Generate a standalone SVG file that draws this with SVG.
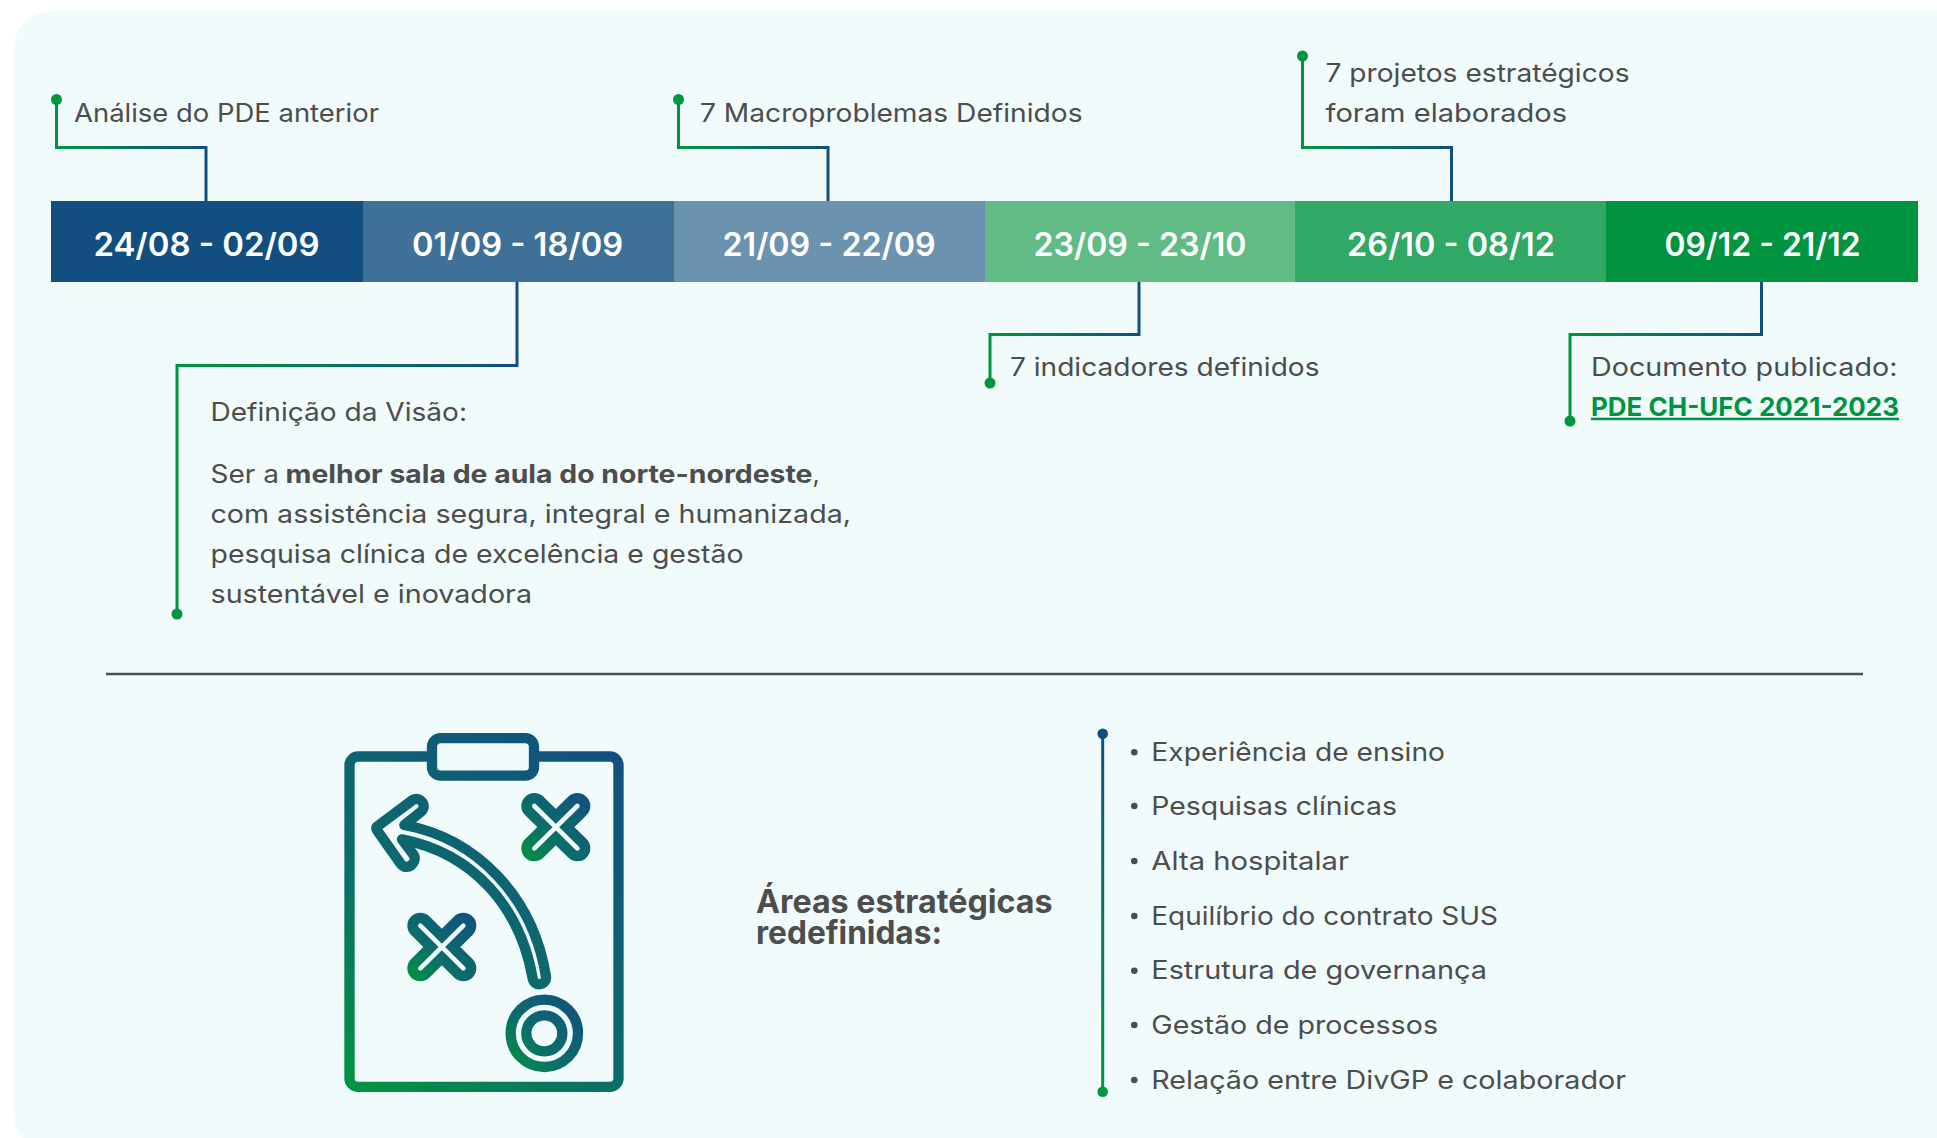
<svg xmlns="http://www.w3.org/2000/svg" width="1937" height="1138" viewBox="0 0 1937 1138">
<style>
text{font-family:"Inter","Noto Sans","Liberation Sans",sans-serif;fill:#4d4d4d;font-size:25.5px}
.d{fill:#fff;font-weight:600;font-size:32px;text-anchor:middle}
.b{font-weight:700}
.c{fill:none;stroke-width:3;stroke-linejoin:miter}
.dot{fill:#00963f}
.ic{fill:none;stroke-width:31;stroke-linejoin:round;stroke-linecap:round}
.bul{fill:#4d4d4d}
</style>
<defs>
<linearGradient id="st"><stop offset="0" stop-color="#00963f"/><stop offset=".42" stop-color="#0c6c6a"/><stop offset="1" stop-color="#124f80"/></linearGradient>
<linearGradient id="gRect" href="#st" gradientUnits="userSpaceOnUse" x1="133" y1="1146" x2="971" y2="124"/>
<linearGradient id="gX1" href="#st" gradientUnits="userSpaceOnUse" x1="663" y1="456" x2="871" y2="248"/>
<linearGradient id="gX2" href="#st" gradientUnits="userSpaceOnUse" x1="321" y1="815" x2="530" y2="607"/>
<linearGradient id="gO" href="#st" gradientUnits="userSpaceOnUse" x1="616" y1="1087" x2="850" y2="853"/>
<linearGradient id="gV" gradientUnits="userSpaceOnUse" x1="0" y1="734" x2="0" y2="1092"><stop offset="0" stop-color="#124f80"/><stop offset="1" stop-color="#00963f"/></linearGradient>
<linearGradient id="gH1" gradientUnits="userSpaceOnUse" x1="56" y1="0" x2="206" y2="0"><stop offset="0" stop-color="#00963f"/><stop offset="1" stop-color="#124f80"/></linearGradient>
<linearGradient id="gH2" gradientUnits="userSpaceOnUse" x1="177" y1="0" x2="517" y2="0"><stop offset="0" stop-color="#00963f"/><stop offset="1" stop-color="#124f80"/></linearGradient>
<linearGradient id="gH3" gradientUnits="userSpaceOnUse" x1="678" y1="0" x2="828" y2="0"><stop offset="0" stop-color="#00963f"/><stop offset="1" stop-color="#124f80"/></linearGradient>
<linearGradient id="gH4" gradientUnits="userSpaceOnUse" x1="989" y1="0" x2="1139" y2="0"><stop offset="0" stop-color="#00963f"/><stop offset="1" stop-color="#124f80"/></linearGradient>
<linearGradient id="gH5" gradientUnits="userSpaceOnUse" x1="1302" y1="0" x2="1452" y2="0"><stop offset="0" stop-color="#00963f"/><stop offset="1" stop-color="#124f80"/></linearGradient>
<linearGradient id="gH6" gradientUnits="userSpaceOnUse" x1="1570" y1="0" x2="1762" y2="0"><stop offset="0" stop-color="#00963f"/><stop offset="1" stop-color="#124f80"/></linearGradient>
</defs>
<rect width="1937" height="1138" fill="#fff"/>
<rect id="panel" x="14" y="11" width="1960" height="1140" rx="36" fill="#f1fbfc"/>

<g id="timeline">
<g id="seg1"><rect x="51" y="201" width="312" height="81" fill="#124f80"/><text class="d" x="206.5" y="256" textLength="226" lengthAdjust="spacingAndGlyphs">24/08 - 02/09</text></g>
<g id="seg2"><rect x="363" y="201" width="311" height="81" fill="#3e7098"/><text class="d" x="517.5" y="256" textLength="211" lengthAdjust="spacingAndGlyphs">01/09 - 18/09</text></g>
<g id="seg3"><rect x="674" y="201" width="311" height="81" fill="#6b93b0"/><text class="d" x="829" y="256" textLength="213" lengthAdjust="spacingAndGlyphs">21/09 - 22/09</text></g>
<g id="seg4"><rect x="985" y="201" width="310" height="81" fill="#60bb85"/><text class="d" x="1140" y="256" textLength="213" lengthAdjust="spacingAndGlyphs">23/09 - 23/10</text></g>
<g id="seg5"><rect x="1295" y="201" width="311" height="81" fill="#30a866"/><text class="d" x="1451" y="256" textLength="208" lengthAdjust="spacingAndGlyphs">26/10 - 08/12</text></g>
<g id="seg6"><rect x="1606" y="201" width="312" height="81" fill="#009440"/><text class="d" x="1762.5" y="256" textLength="196" lengthAdjust="spacingAndGlyphs">09/12 - 21/12</text></g>
</g>

<g id="connectors">
<path class="c" stroke="url(#gH1)" d="M56.5 99V147.5H206V201"/>
<path class="c" stroke="url(#gH2)" d="M517 282V365.5H177V614"/>
<path class="c" stroke="url(#gH3)" d="M678.5 99V147.5H828V201"/>
<path class="c" stroke="url(#gH4)" d="M1139 282V334.5H990V383"/>
<path class="c" stroke="url(#gH5)" d="M1302.5 56V147.5H1451.5V201"/>
<path class="c" stroke="url(#gH6)" d="M1761.5 282V334.5H1570V421"/>
<circle class="dot" cx="56.5" cy="99.5" r="5.5"/>
<circle class="dot" cx="177" cy="614" r="5.5"/>
<circle class="dot" cx="678.5" cy="99.5" r="5.5"/>
<circle class="dot" cx="990" cy="383" r="5.5"/>
<circle class="dot" cx="1302.5" cy="56" r="5.5"/>
<circle class="dot" cx="1570" cy="421" r="5.5"/>
<path d="M1102.7 734V1092" stroke="url(#gV)" stroke-width="3" fill="none"/>
<circle cx="1102.7" cy="733.7" r="5.3" fill="#124f80"/>
<circle cx="1102.7" cy="1091.7" r="5.3" fill="#00963f"/>
</g>

<g id="label-analise"><text x="74" y="121.7" textLength="305" lengthAdjust="spacingAndGlyphs">Análise do PDE anterior</text></g>
<g id="label-macro"><text x="700" y="121.7" textLength="382.5" lengthAdjust="spacingAndGlyphs">7 Macroproblemas Definidos</text></g>
<g id="label-projetos"><text x="1325.5" y="81.7" textLength="304" lengthAdjust="spacingAndGlyphs">7 projetos estratégicos</text><text x="1325.5" y="121.7" textLength="241.5" lengthAdjust="spacingAndGlyphs">foram elaborados</text></g>
<g id="label-indicadores"><text x="1010" y="376" textLength="309.5" lengthAdjust="spacingAndGlyphs">7 indicadores definidos</text></g>
<g id="label-documento"><text x="1591" y="376" textLength="306.5" lengthAdjust="spacingAndGlyphs">Documento publicado:</text>
<text x="1591" y="415.7" textLength="308" lengthAdjust="spacingAndGlyphs" class="b" style="fill:#009440;text-decoration:underline">PDE CH-UFC 2021-2023</text></g>
<g id="label-visao">
<text x="210.5" y="420.7" textLength="256.5" lengthAdjust="spacingAndGlyphs">Definição da Visão:</text>
<text y="482.7"><tspan x="210.5" textLength="68.5" lengthAdjust="spacingAndGlyphs">Ser a</tspan><tspan x="285.5" class="b" textLength="527" lengthAdjust="spacingAndGlyphs">melhor sala de aula do norte-nordeste</tspan><tspan x="812.5">,</tspan></text>
<text x="210.5" y="522.7" textLength="640.5" lengthAdjust="spacingAndGlyphs">com assistência segura, integral e humanizada,</text>
<text x="210.5" y="563" textLength="533" lengthAdjust="spacingAndGlyphs">pesquisa clínica de excelência e gestão</text>
<text x="210.5" y="603" textLength="321.5" lengthAdjust="spacingAndGlyphs">sustentável e inovadora</text>
</g>

<path id="divider" d="M106 674H1863" stroke="#4d4d4d" stroke-width="2.5" fill="none"/>

<g id="icon" transform="translate(300 710) scale(.33333)">
<rect class="ic" x="148.5" y="139.5" width="807" height="991" rx="26" stroke="url(#gRect)"/>
<rect class="ic" x="396" y="84.5" width="306" height="112.5" rx="26" style="fill:#f1fbfc" stroke="url(#gRect)"/>
<path class="ic" stroke="url(#gRect)" d="M313 345C530 385 700 560 738 800A20 20 0 0 1 698 805C660 590 520 430 306 388L342 436C352 458 322 486 302 461L232 362Q224 352 236 346L338 270C362 256 384 290 362 306Z"/>
<g stroke-linecap="round" fill="none">
<path stroke="url(#gX1)" stroke-width="78" d="M703 288L832 415M832 288L703 415"/>
<path stroke="#f1fbfc" stroke-width="14" d="M703 288L832 415M832 288L703 415"/>
<path stroke="url(#gX2)" stroke-width="78" d="M361 647L490 775M490 647L361 775"/>
<path stroke="#f1fbfc" stroke-width="14" d="M361 647L490 775M490 647L361 775"/>
</g>
<circle class="ic" cx="733" cy="970" r="101" stroke="url(#gO)"/>
<circle class="ic" cx="733" cy="970" r="54" stroke="url(#gO)"/>
</g>

<g id="title"><text x="756" y="913" textLength="296.5" lengthAdjust="spacingAndGlyphs" class="b" style="font-size:32px">Áreas estratégicas</text><text x="756" y="944" textLength="186" lengthAdjust="spacingAndGlyphs" class="b" style="font-size:32px">redefinidas:</text></g>

<g id="list">
<circle class="bul" cx="1134.3" cy="752.3" r="3.3"/><text x="1151.3" y="761" textLength="293.7" lengthAdjust="spacingAndGlyphs">Experiência de ensino</text>
<circle class="bul" cx="1134.3" cy="806" r="3.3"/><text x="1151.3" y="815.3" textLength="245.7" lengthAdjust="spacingAndGlyphs">Pesquisas clínicas</text>
<circle class="bul" cx="1134.3" cy="861" r="3.3"/><text x="1151.3" y="870" textLength="197.7" lengthAdjust="spacingAndGlyphs">Alta hospitalar</text>
<circle class="bul" cx="1134.3" cy="916" r="3.3"/><text x="1151.3" y="925" textLength="346.7" lengthAdjust="spacingAndGlyphs">Equilíbrio do contrato SUS</text>
<circle class="bul" cx="1134.3" cy="970.7" r="3.3"/><text x="1151.3" y="979.3" textLength="335.7" lengthAdjust="spacingAndGlyphs">Estrutura de governança</text>
<circle class="bul" cx="1134.3" cy="1025" r="3.3"/><text x="1151.3" y="1034" textLength="286.7" lengthAdjust="spacingAndGlyphs">Gestão de processos</text>
<circle class="bul" cx="1134.3" cy="1080" r="3.3"/><text x="1151.3" y="1089" textLength="474.7" lengthAdjust="spacingAndGlyphs">Relação entre DivGP e colaborador</text>
</g>
</svg>
